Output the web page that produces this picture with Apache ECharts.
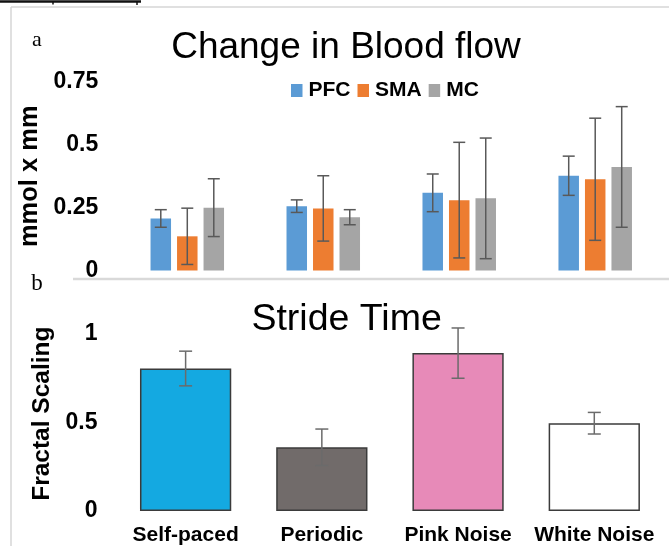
<!DOCTYPE html>
<html>
<head>
<meta charset="utf-8">
<script src="https://cdn.jsdelivr.net/npm/echarts@6/dist/echarts.min.js"></script>
<style>html,body{margin:0;padding:0;background:#fff;}#c{width:669px;height:546px;}</style>
</head>
<body>
<div id="c"></div>
<script>
// ---- data ----
const conditions = ['Self-paced', 'Periodic', 'Pink Noise', 'White Noise'];
const seriesNames = ['PFC', 'SMA', 'MC'];
const pfc = [0.207, 0.256, 0.309, 0.377];
const pfcErr = [0.035, 0.025, 0.075, 0.078];
const sma = [0.136, 0.247, 0.280, 0.363];
const smaErr = [0.112, 0.130, 0.230, 0.243];
const mc = [0.250, 0.212, 0.287, 0.412];
const mcErr = [0.115, 0.030, 0.240, 0.240];
const stride = [0.805, 0.360, 0.892, 0.496];
const strideErr = [0.098, 0.103, 0.142, 0.061];
const topTicks = [0, 0.25, 0.5, 0.75];
const bottomTicks = [0, 0.5, 1];

// ---- style ----
const FONT = 'Arial, "Liberation Sans", sans-serif';
const SERIF = '"Liberation Serif", "Times New Roman", serif';
const topColors = ['#5B9BD5', '#ED7D31', '#A5A5A5'];
const bottomColors = ['#14A9E1', '#716B6A', '#E78AB8', '#FFFFFF'];
const BAR_W = 20.5, BAR_GAP = 6;

const chart = echarts.init(document.getElementById('c'), null, {renderer: 'canvas'});

function errItem(offsetPx, capW, color) {
  return function (params, api) {
    const idx = api.value(0), v = api.value(1), e = api.value(2);
    const hi = api.coord([idx, v + e]);
    const lo = api.coord([idx, v - e]);
    const x = hi[0] + offsetPx;
    const st = {stroke: color, lineWidth: 1.5};
    return {
      type: 'group',
      children: [
        {type: 'line', shape: {x1: x, y1: hi[1], x2: x, y2: lo[1]}, style: st},
        {type: 'line', shape: {x1: x - capW / 2, y1: hi[1], x2: x + capW / 2, y2: hi[1]}, style: st},
        {type: 'line', shape: {x1: x - capW / 2, y1: lo[1], x2: x + capW / 2, y2: lo[1]}, style: st}
      ]
    };
  };
}

const topVals = [pfc, sma, mc];
const topErrs = [pfcErr, smaErr, mcErr];

const series = [];
seriesNames.forEach((n, i) => {
  series.push({
    name: n, type: 'bar', xAxisIndex: 0, yAxisIndex: 0,
    data: topVals[i], barWidth: BAR_W, barGap: (BAR_GAP / BAR_W * 100) + '%',
    itemStyle: {color: topColors[i]}, silent: true
  });
});
seriesNames.forEach((n, i) => {
  series.push({
    type: 'custom', xAxisIndex: 0, yAxisIndex: 0, z: 5, silent: true,
    renderItem: errItem((i - 1) * (BAR_W + BAR_GAP), 12, '#595959'),
    data: topVals[i].map((v, k) => [k, v, topErrs[i][k]])
  });
});
series.push({
  type: 'bar', xAxisIndex: 1, yAxisIndex: 1, barWidth: '67%', silent: true,
  data: stride.map((v, k) => ({value: v, itemStyle: {color: bottomColors[k]}})),
  itemStyle: {borderColor: '#3b3b3b', borderWidth: 1.5}
});
series.push({
  type: 'custom', xAxisIndex: 1, yAxisIndex: 1, z: 5, silent: true,
  renderItem: errItem(0, 13, '#6b6b6b'),
  data: stride.map((v, k) => [k, v, strideErr[k]])
});

const yLabel = (ticks) => ({
  fontFamily: FONT, fontWeight: 'bold', fontSize: 23, color: '#000', margin: 21,
  formatter: (v) => ticks.some(t => Math.abs(t - v) < 1e-9) ? String(+v.toFixed(2)) : ''
});

chart.setOption({
  animation: false,
  backgroundColor: '#fff',
  legend: {
    data: seriesNames, left: 286, top: 75, itemWidth: 11.5, itemHeight: 13, itemGap: 7,
    icon: 'rect',
    textStyle: {fontFamily: FONT, fontWeight: 'bold', fontSize: 21, color: '#000', padding: [0, 0, 0, 1]}
  },
  grid: [
    {left: 119.3, right: 5.8, top: 82, height: 188.5},
    {left: 117.5, right: 6.6, top: 316.3, height: 194.7}
  ],
  xAxis: [
    {type: 'category', gridIndex: 0, data: conditions, axisLine: {show: false}, axisTick: {show: false}, axisLabel: {show: false}},
    {type: 'category', gridIndex: 1, data: conditions, axisLine: {show: false}, axisTick: {show: false},
     axisLabel: {interval: 0, hideOverlap: false, fontFamily: FONT, fontWeight: 'bold', fontSize: 21, color: '#000', margin: 14}}
  ],
  yAxis: [
    {type: 'value', gridIndex: 0, min: 0, max: 0.75, interval: 0.25, splitLine: {show: false},
     axisLine: {show: false}, axisTick: {show: false}, axisLabel: yLabel(topTicks),
     name: 'mmol x mm', nameLocation: 'middle', nameGap: 74, nameRotate: 90,
     nameTextStyle: {fontFamily: FONT, fontWeight: 'bold', fontSize: 25.5, color: '#000'}},
    {type: 'value', gridIndex: 1, min: 0, max: 1.1, interval: 0.5, splitLine: {show: false},
     axisLine: {show: false}, axisTick: {show: false}, axisLabel: Object.assign(yLabel(bottomTicks), {showMaxLabel: false, margin: 20}),
     name: 'Fractal Scaling', nameLocation: 'middle', nameGap: 63, nameRotate: 90,
     nameTextStyle: {fontFamily: FONT, fontWeight: 'bold', fontSize: 24.5, color: '#000'}}
  ],
  graphic: [
    {type: 'line', shape: {x1: 11, y1: 7, x2: 669, y2: 7}, style: {stroke: '#d6d6d6', lineWidth: 1.5}},
    {type: 'line', shape: {x1: 11, y1: 7, x2: 11, y2: 546}, style: {stroke: '#d6d6d6', lineWidth: 1.5}},
    {type: 'line', shape: {x1: 73, y1: 279, x2: 669, y2: 279}, style: {stroke: '#d9d9d9', lineWidth: 2.5}},
    {type: 'line', shape: {x1: 0, y1: 1.5, x2: 141, y2: 1.5}, style: {stroke: '#111', lineWidth: 2.5}},
    {type: 'line', shape: {x1: 53, y1: 1, x2: 53, y2: 4.5}, style: {stroke: '#111', lineWidth: 1.5}},
    {type: 'line', shape: {x1: 137, y1: 1, x2: 137, y2: 5}, style: {stroke: '#111', lineWidth: 1.5}},
    {type: 'text', x: 346, y: 48, style: {text: 'Change in Blood flow', fontFamily: FONT, fontSize: 37, fill: '#000', align: 'center', verticalAlign: 'middle'}},
    {type: 'text', x: 346.6, y: 319.5, style: {text: 'Stride Time', fontFamily: FONT, fontSize: 37.5, fill: '#000', align: 'center', verticalAlign: 'middle'}},
    {type: 'text', x: 37, y: 40.5, style: {text: 'a', fontFamily: SERIF, fontSize: 22, fill: '#000', align: 'center', verticalAlign: 'middle'}},
    {type: 'text', x: 37, y: 283.5, style: {text: 'b', fontFamily: SERIF, fontSize: 23, fill: '#000', align: 'center', verticalAlign: 'middle'}}
  ],
  series: series
});
</script>
</body>
</html>
